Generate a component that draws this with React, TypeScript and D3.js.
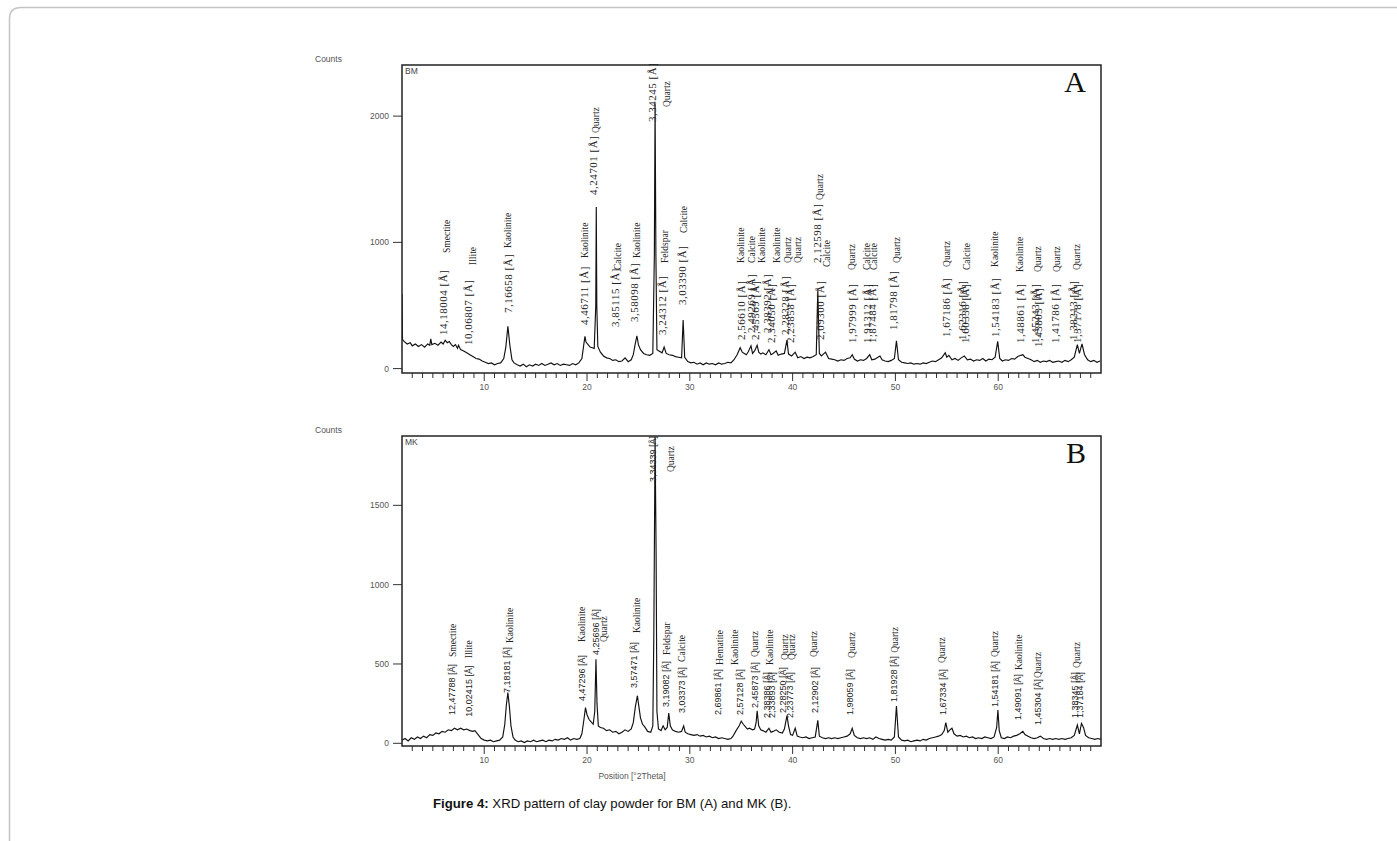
import * as d3 from "d3";

// 2Theta range shared by both scans
const thetaDomain: [number, number] = [2, 70];
const majorTicks = [10, 20, 30, 40, 50, 60];

// BM scan: [2Theta, counts]
const bmTrace: [number, number][] = [
  [2.0, 590], [2.05, 230], [2.2, 215], [2.5, 195], [2.8, 205], [3.0, 180], [3.3, 195], [3.6, 175],
  [3.9, 190], [4.2, 170], [4.5, 195], [4.7, 185], [4.8, 235], [4.9, 190], [5.2, 200], [5.5, 185],
  [5.8, 210], [6.0, 195], [6.2, 225], [6.4, 205], [6.6, 215], [6.8, 190], [7.0, 175], [7.2, 190],
  [7.4, 160], [7.5, 185], [7.7, 150], [8.0, 140], [8.3, 125], [8.6, 110], [8.9, 95], [9.2, 80],
  [9.5, 75], [9.8, 60], [10.1, 50], [10.4, 40], [10.7, 45], [11.0, 30], [11.3, 40], [11.6, 45],
  [11.9, 80], [12.1, 170], [12.3, 335], [12.5, 180], [12.7, 70], [12.9, 45], [13.2, 30], [13.5, 20],
  [13.8, 35], [14.1, 15], [14.4, 30], [14.7, 20], [15.0, 35], [15.3, 25], [15.6, 40], [15.9, 25],
  [16.2, 35], [16.5, 45], [16.8, 30], [17.1, 40], [17.4, 25], [17.7, 35], [18.0, 30], [18.3, 25],
  [18.6, 40], [18.9, 30], [19.2, 45], [19.5, 80], [19.7, 200], [19.8, 255], [19.9, 210], [20.1, 190],
  [20.3, 170], [20.5, 165], [20.7, 160], [20.85, 500], [20.9, 1280], [20.95, 500], [21.05, 175],
  [21.3, 130], [21.6, 100], [21.9, 85], [22.2, 80], [22.5, 65], [22.8, 70], [23.1, 55], [23.4, 60],
  [23.7, 85], [24.0, 55], [24.3, 70], [24.5, 110], [24.7, 200], [24.85, 260], [25.0, 190], [25.2, 150],
  [25.5, 120], [25.8, 110], [26.1, 105], [26.4, 120], [26.55, 900], [26.62, 2100], [26.7, 900],
  [26.8, 150], [27.0, 140], [27.3, 125], [27.5, 170], [27.7, 120], [28.0, 110], [28.3, 105], [28.6, 95],
  [28.9, 90], [29.2, 85], [29.35, 385], [29.5, 90], [29.8, 55], [30.1, 45], [30.4, 50], [30.7, 35],
  [31.0, 45], [31.3, 30], [31.6, 45], [31.9, 35], [32.2, 40], [32.5, 30], [32.8, 45], [33.1, 35],
  [33.4, 40], [33.7, 50], [34.0, 45], [34.3, 70], [34.6, 110], [34.9, 165], [35.1, 130], [35.3, 120],
  [35.5, 110], [35.7, 135], [35.95, 180], [36.1, 120], [36.3, 140], [36.55, 185], [36.7, 130],
  [36.9, 115], [37.1, 125], [37.4, 110], [37.7, 150], [37.9, 110], [38.1, 120], [38.4, 140], [38.6, 105],
  [38.9, 115], [39.2, 120], [39.45, 225], [39.6, 115], [39.9, 100], [40.25, 130], [40.5, 85], [40.8, 95],
  [41.1, 80], [41.4, 90], [41.7, 85], [42.0, 95], [42.3, 110], [42.45, 620], [42.6, 120], [42.8, 100],
  [43.2, 130], [43.5, 80], [43.8, 75], [44.1, 70], [44.4, 60], [44.7, 70], [45.0, 65], [45.3, 80],
  [45.6, 85], [45.8, 110], [46.0, 75], [46.3, 60], [46.6, 70], [46.9, 65], [47.2, 80], [47.5, 110],
  [47.7, 70], [48.0, 75], [48.3, 90], [48.5, 100], [48.7, 70], [49.0, 60], [49.3, 55], [49.6, 65],
  [49.9, 80], [50.1, 220], [50.3, 70], [50.6, 50], [50.9, 45], [51.2, 40], [51.5, 45], [51.8, 35],
  [52.1, 40], [52.4, 35], [52.7, 45], [53.0, 40], [53.3, 50], [53.6, 60], [53.9, 55], [54.2, 70],
  [54.5, 85], [54.85, 125], [55.0, 90], [55.2, 105], [55.5, 70], [55.8, 80], [56.1, 65], [56.4, 85],
  [56.7, 100], [57.0, 70], [57.3, 75], [57.6, 60], [57.9, 70], [58.2, 65], [58.5, 80], [58.8, 60],
  [59.1, 75], [59.4, 70], [59.7, 90], [59.95, 215], [60.15, 80], [60.4, 60], [60.7, 70], [61.0, 65],
  [61.3, 80], [61.6, 75], [61.9, 95], [62.2, 105], [62.4, 110], [62.6, 90], [62.9, 80], [63.2, 70],
  [63.5, 55], [63.8, 65], [64.1, 50], [64.4, 60], [64.7, 55], [65.0, 65], [65.3, 50], [65.6, 55],
  [65.9, 60], [66.2, 50], [66.5, 65], [66.8, 55], [67.1, 70], [67.4, 90], [67.7, 190], [67.9, 120],
  [68.15, 195], [68.4, 110], [68.7, 70], [69.0, 55], [69.3, 65], [69.6, 50], [69.9, 60],
];

// MK scan
const mkTrace: [number, number][] = [
  [2.0, 20], [2.3, 30], [2.6, 15], [2.9, 35], [3.2, 25], [3.5, 40], [3.8, 30], [4.1, 45], [4.4, 35],
  [4.7, 55], [5.0, 50], [5.3, 65], [5.6, 60], [5.9, 75], [6.2, 70], [6.5, 85], [6.8, 80], [7.1, 95],
  [7.4, 85], [7.7, 95], [8.0, 85], [8.3, 90], [8.6, 80], [8.9, 75], [9.1, 80], [9.4, 55], [9.7, 30],
  [10.0, 20], [10.3, 15], [10.6, 20], [10.9, 10], [11.2, 15], [11.5, 20], [11.8, 40], [12.0, 120],
  [12.15, 240], [12.3, 320], [12.45, 230], [12.6, 110], [12.8, 40], [13.0, 20], [13.3, 10], [13.6, 15],
  [13.9, 5], [14.2, 15], [14.5, 10], [14.8, 20], [15.1, 10], [15.4, 15], [15.7, 20], [16.0, 10],
  [16.3, 20], [16.6, 15], [16.9, 25], [17.2, 20], [17.5, 30], [17.8, 25], [18.1, 35], [18.4, 20],
  [18.7, 30], [19.0, 25], [19.3, 30], [19.5, 60], [19.7, 150], [19.85, 225], [20.0, 180], [20.2, 150],
  [20.4, 135], [20.6, 120], [20.75, 200], [20.87, 530], [20.97, 250], [21.1, 110], [21.3, 100],
  [21.6, 95], [21.9, 80], [22.2, 85], [22.5, 70], [22.8, 75], [23.1, 60], [23.4, 70], [23.7, 85],
  [24.0, 75], [24.3, 90], [24.5, 130], [24.7, 230], [24.9, 300], [25.05, 230], [25.2, 160], [25.4, 120],
  [25.6, 105], [25.9, 75], [26.2, 70], [26.4, 110], [26.5, 700], [26.62, 1930], [26.72, 1200],
  [26.8, 200], [26.95, 90], [27.2, 80], [27.4, 110], [27.6, 85], [27.8, 100], [27.95, 190], [28.1, 110],
  [28.3, 85], [28.6, 75], [28.9, 70], [29.2, 75], [29.4, 110], [29.55, 70], [29.8, 60], [30.1, 55],
  [30.4, 50], [30.7, 55], [31.0, 45], [31.3, 50], [31.6, 40], [31.9, 45], [32.2, 35], [32.5, 40],
  [32.8, 30], [33.1, 35], [33.4, 30], [33.7, 25], [34.0, 30], [34.2, 45], [34.5, 80], [34.8, 110],
  [35.0, 140], [35.2, 120], [35.4, 105], [35.6, 90], [35.8, 95], [36.1, 85], [36.3, 90], [36.45, 130],
  [36.55, 205], [36.7, 110], [36.9, 85], [37.1, 80], [37.4, 70], [37.7, 95], [37.9, 70], [38.1, 75],
  [38.4, 85], [38.7, 70], [39.0, 65], [39.2, 90], [39.45, 175], [39.6, 110], [39.8, 55], [40.0, 50],
  [40.25, 95], [40.45, 45], [40.7, 40], [41.0, 35], [41.3, 40], [41.6, 30], [41.9, 35], [42.2, 40],
  [42.45, 145], [42.6, 45], [42.9, 35], [43.2, 30], [43.5, 35], [43.8, 30], [44.1, 35], [44.4, 30],
  [44.7, 35], [45.0, 40], [45.3, 45], [45.6, 60], [45.8, 95], [46.0, 50], [46.3, 35], [46.6, 30],
  [46.9, 35], [47.2, 30], [47.5, 35], [47.8, 25], [48.1, 40], [48.4, 30], [48.7, 25], [49.0, 20],
  [49.3, 25], [49.6, 20], [49.9, 40], [50.1, 235], [50.3, 40], [50.6, 20], [50.9, 15], [51.2, 20],
  [51.5, 10], [51.8, 15], [52.1, 20], [52.4, 15], [52.7, 25], [53.0, 20], [53.3, 30], [53.6, 35],
  [53.9, 40], [54.2, 45], [54.5, 55], [54.75, 80], [54.9, 130], [55.1, 70], [55.3, 85], [55.5, 95],
  [55.7, 60], [56.0, 45], [56.3, 50], [56.6, 40], [56.9, 45], [57.2, 35], [57.5, 40], [57.8, 30],
  [58.1, 35], [58.4, 30], [58.7, 40], [59.0, 35], [59.3, 30], [59.6, 40], [59.85, 100], [59.97, 210],
  [60.1, 80], [60.3, 35], [60.6, 30], [60.9, 40], [61.2, 35], [61.5, 45], [61.8, 50], [62.1, 60],
  [62.4, 75], [62.6, 55], [62.9, 45], [63.2, 35], [63.5, 30], [63.8, 35], [64.1, 45], [64.4, 30],
  [64.7, 25], [65.0, 30], [65.3, 25], [65.6, 30], [65.9, 25], [66.2, 30], [66.5, 25], [66.8, 30],
  [67.1, 35], [67.4, 50], [67.7, 115], [67.9, 60], [68.1, 125], [68.3, 100], [68.5, 50], [68.8, 35],
  [69.1, 30], [69.4, 25], [69.7, 30], [70.0, 25],
];

// peak labels: [2Theta, d-spacing, label foot (counts), phase, phase 2Theta, phase foot (counts)]
type PeakLabel = [number, string, number, string, number, number];

const bmLabels: PeakLabel[] = [
  [5.99, "14,18004", 266, "Smectite", 6.38, 916],
  [8.42, "10,06807", 187, "Illite", 8.91, 821],
  [12.31, "7,16658", 440, "Kaolinite", 12.31, 955],
  [19.71, "4,46711", 345, "Kaolinite", 19.8, 876],
  [20.58, "4,24701", 1375, "Quartz", 20.87, 1866],
  [22.72, "3,85115", 330, "Calcite", 23.01, 781],
  [24.57, "3,58098", 369, "Kaolinite", 24.86, 876],
  [26.32, "3,34245", 1954, "Quartz", 27.78, 2072],
  [27.29, "3,24312", 266, "Feldspar", 27.59, 837],
  [29.24, "3,03390", 504, "Calcite", 29.43, 1074],
  [34.98, "2,56610", 227, "Kaolinite", 34.98, 837],
  [35.95, "2,49269", 282, "Calcite", 36.05, 837],
  [36.34, "2,45569", 227, "Kaolinite", 37.02, 837],
  [37.51, "2,38392", 282, "Kaolinite", 38.48, 837],
  [37.9, "2,34050", 203, "", 0, 0],
  [39.26, "2,28328", 266, "Quartz", 39.55, 837],
  [39.75, "2,23858", 203, "Quartz", 40.53, 837],
  [42.37, "2,12598", 837, "Quartz", 42.67, 1336],
  [42.71, "2,09300", 227, "Calcite", 43.34, 805],
  [45.78, "1,97999", 203, "Quartz", 45.78, 781],
  [47.24, "1,91312", 203, "Calcite", 47.24, 781],
  [47.72, "1,87484", 203, "Calcite", 47.92, 781],
  [49.77, "1,81798", 306, "Quartz", 50.16, 837],
  [54.92, "1,67186", 250, "Quartz", 55.02, 805],
  [56.48, "1,62316", 227, "Calcite", 56.97, 781],
  [56.77, "1,60338", 203, "", 0, 0],
  [59.69, "1,54183", 250, "Kaolinite", 59.69, 805],
  [62.12, "1,48861", 203, "Kaolinite", 62.12, 765],
  [63.58, "1,45243", 203, "Quartz", 63.87, 765],
  [63.87, "1,43803", 171, "", 0, 0],
  [65.53, "1,41786", 203, "Quartz", 65.72, 765],
  [67.28, "1,38213", 227, "Quartz", 67.67, 781],
  [67.67, "1,37178", 203, "", 0, 0],
];

const mkLabels: PeakLabel[] = [
  [6.84, "12,47788", 178, "Smectite", 6.96, 544],
  [8.52, "10,02415", 168, "Illite", 8.52, 536],
  [12.21, "7,18181", 317, "Kaolinite", 12.51, 632],
  [19.51, "4,47296", 267, "Kaolinite", 19.51, 638],
  [20.87, "4,25696", 556, "Quartz", 21.65, 638],
  [24.57, "3,57471", 349, "Kaolinite", 24.86, 695],
  [26.42, "3,34339", 1647, "Quartz", 28.14, 1710],
  [27.68, "3,19082", 229, "Feldspar", 27.78, 557],
  [29.24, "3,03373", 191, "Calcite", 29.24, 513],
  [32.74, "2,69861", 178, "Hematite", 32.94, 494],
  [34.88, "2,57128", 178, "Kaolinite", 34.4, 494],
  [36.34, "2,45873", 223, "Quartz", 36.34, 544],
  [37.48, "2,38386", 160, "Kaolinite", 37.8, 494],
  [37.97, "2,33893", 160, "", 0, 0],
  [39.07, "2,28250", 191, "Quartz", 39.26, 525],
  [39.75, "2,23773", 160, "Quartz", 39.94, 525],
  [42.18, "2,12902", 191, "Quartz", 42.08, 544],
  [45.58, "1,98059", 178, "Quartz", 45.78, 538],
  [49.86, "1,81928", 260, "Quartz", 49.96, 570],
  [54.6, "1,67334", 178, "Quartz", 54.5, 506],
  [59.69, "1,54181", 229, "Quartz", 59.69, 544],
  [61.93, "1,49091", 147, "Kaolinite", 62.03, 462],
  [63.87, "1,45304", 115, "Quartz", 63.87, 412],
  [67.47, "1,38345", 160, "Quartz", 67.67, 475],
  [67.96, "1,37184", 160, "", 0, 0],
];

const bmTicks = [0, 1000, 2000];
const mkTicks = [0, 500, 1000, 1500];

const SANS = "'Liberation Sans', Arial, sans-serif";
const SERIF = "'Liberation Serif', 'Times New Roman', serif";

type PanelProps = {
  id: string;
  trace: [number, number][];
  labels: PeakLabel[];
  yDomain: [number, number];
  yTicks: number[];
  top: number;
  bottom: number;
  tag: string;
  letter: string;
  serifD: boolean;
};

function Panel({ id, trace, labels, yDomain, yTicks, top, bottom, tag, letter, serifD }: PanelProps) {
  const left = 402;
  const right = 1101;
  const x = d3.scaleLinear().domain(thetaDomain).range([left, right]);
  const y = d3.scaleLinear().domain(yDomain).range([bottom, top]);
  const line = d3
    .line<[number, number]>()
    .x((d) => x(d[0]))
    .y((d) => y(d[1]));
  const minor = d3.range(3, 70).filter((t) => t % 10 !== 0);

  return (
    <g>
      <defs>
        <clipPath id={`clip-${id}`}>
          <rect x={left} y={top} width={right - left} height={bottom - top} />
        </clipPath>
      </defs>

      <text x={315} y={top - 3} fontFamily={SANS} fontSize={8.5} fill="#555">
        Counts
      </text>

      {/* y axis ticks */}
      {yTicks.map((t) => (
        <g key={t}>
          <line x1={left - 9} x2={left} y1={y(t)} y2={y(t)} stroke="#333" strokeWidth={1} />
          <text x={left - 13} y={y(t)} dy="0.35em" textAnchor="end" fontFamily={SANS} fontSize={8.5} fill="#555">
            {t}
          </text>
        </g>
      ))}

      {/* x axis ticks */}
      {minor.map((t) => (
        <line key={t} x1={x(t)} x2={x(t)} y1={bottom} y2={bottom + 5} stroke="#333" strokeWidth={1} />
      ))}
      {majorTicks.map((t) => (
        <g key={t}>
          <line x1={x(t)} x2={x(t)} y1={bottom} y2={bottom + 8} stroke="#333" strokeWidth={1} />
          <text x={x(t)} y={bottom + 17} textAnchor="middle" fontFamily={SANS} fontSize={8.5} fill="#555">
            {t}
          </text>
        </g>
      ))}

      <path d={line(trace) ?? ""} fill="none" stroke="#111" strokeWidth={1.15} clipPath={`url(#clip-${id})`} />

      {/* peak labels */}
      {labels.map(([t, d, foot, phase, pt, pfoot], i) => (
        <g key={i} fill="#222">
          <text
            transform={`translate(${x(t)},${y(foot)}) rotate(-90)`}
            dy="0.35em"
            fontFamily={serifD ? SERIF : SANS}
            fontSize={serifD ? 11 : 9}
            letterSpacing={serifD ? 0.5 : 0}
          >
            {`${d} [Å]`}
          </text>
          {phase && (
            <text
              transform={`translate(${x(pt)},${y(pfoot)}) rotate(-90)`}
              dy="0.35em"
              fontFamily={SERIF}
              fontSize={9.5}
            >
              {phase}
            </text>
          )}
        </g>
      ))}

      <rect x={left} y={top} width={right - left} height={bottom - top} fill="none" stroke="#222" strokeWidth={1.5} />
      <text x={left + 3} y={top + 9} fontFamily={SANS} fontSize={8.5} fill="#444">
        {tag}
      </text>
      <text x={right - 15} y={top + 27} textAnchor="end" fontFamily={SERIF} fontSize={30} fill="#111">
        {letter}
      </text>
    </g>
  );
}

export default function App() {
  return (
    <svg
      width={1397}
      height={841}
      style={{ position: "absolute", left: 0, top: 0, background: "#fff" }}
    >
      <path d="M9.5,841 V19 Q9.5,7.5 21,7.5 H1397" fill="none" stroke="#c4c4c4" strokeWidth={1.5} />

      <Panel
        id="bm"
        trace={bmTrace}
        labels={bmLabels}
        yDomain={[-35, 2405]}
        yTicks={bmTicks}
        top={65}
        bottom={373}
        tag="BM"
        letter="A"
        serifD={true}
      />
      <Panel
        id="mk"
        trace={mkTrace}
        labels={mkLabels}
        yDomain={[-17, 1937]}
        yTicks={mkTicks}
        top={436}
        bottom={746}
        tag="MK"
        letter="B"
        serifD={false}
      />

      <text x={632} y={779} textAnchor="middle" fontFamily={SANS} fontSize={8.5} fill="#555">
        Position [°2Theta]
      </text>

      <text x={433} y={808} fontFamily={SANS} fontSize={13.2} fill="#111">
        <tspan fontWeight="bold">Figure 4:</tspan>
        <tspan> XRD pattern of clay powder for BM (A) and MK (B).</tspan>
      </text>
    </svg>
  );
}
